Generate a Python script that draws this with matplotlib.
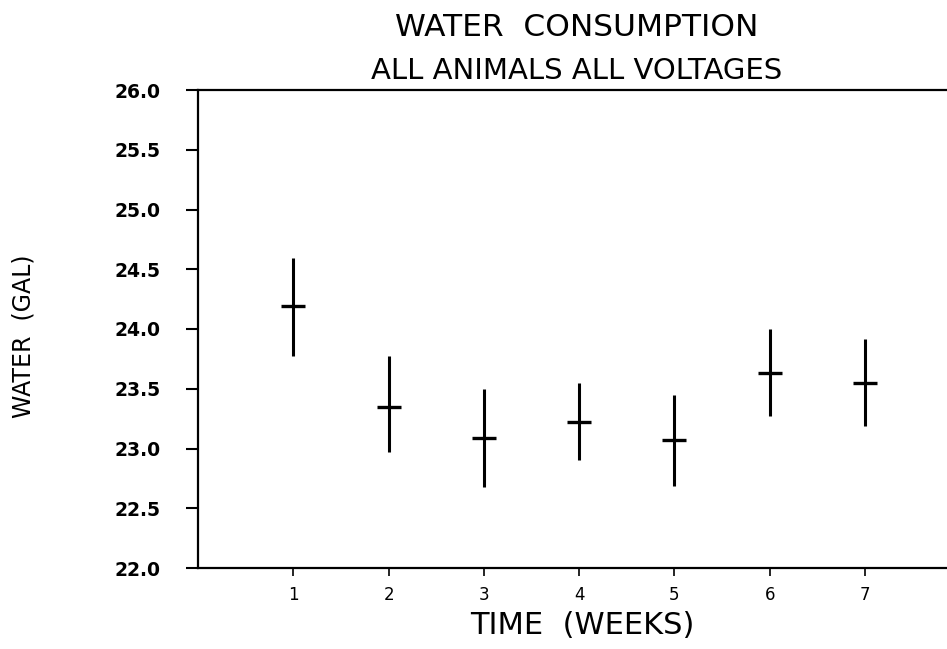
import matplotlib
matplotlib.use("Agg")
import matplotlib.pyplot as plt

weeks = [1, 2, 3, 4, 5, 6, 7]
means = [24.19, 23.35, 23.09, 23.22, 23.07, 23.63, 23.55]
upper = [24.59, 23.77, 23.50, 23.55, 23.45, 24.00, 23.92]
lower = [23.77, 22.97, 22.68, 22.90, 22.69, 23.27, 23.19]
yticks = [22.0, 22.5, 23.0, 23.5, 24.0, 24.5, 25.0, 25.5, 26.0]
ytick_labels = ["22.0", "22.5", "23.0", "23.5", "24.0", "24.5", "25.0", "25.5", "26.0"]

W, H = 947, 649
fig = plt.figure(figsize=(W / 100, H / 100), dpi=100)
left, right, top, bottom = 198, 947, 90, 568
ax = fig.add_axes([left / W, 1 - bottom / H, (right - left) / W, (bottom - top) / H])

yerr = [[m - l for m, l in zip(means, lower)], [u - m for u, m in zip(upper, means)]]
ax.errorbar(weeks, means, yerr=yerr, fmt="none", ecolor="black", elinewidth=2.2, capsize=0)
ax.plot(weeks, means, linestyle="none", marker="_", markersize=17, markeredgewidth=2.4, color="black")

ax.set_xlim(0, 7.86)
ax.set_ylim(22.0, 26.0)
ax.set_xticks(weeks)
ax.set_xticklabels([str(w) for w in weeks], fontsize=12)
ax.set_yticks(yticks)
ax.set_yticklabels(ytick_labels, fontsize=13.5, fontweight="bold")

ax.spines["right"].set_visible(False)
for s in ["left", "top", "bottom"]:
    ax.spines[s].set_linewidth(1.6)
ax.tick_params(axis="y", direction="out", length=9, width=1.5, pad=18)
ax.tick_params(axis="x", direction="out", length=6, width=1.2, pad=7)

fig.text(582 / W, 1 - 625 / H, "TIME  (WEEKS)", fontsize=22, ha="center", va="center")
fig.text(24 / W, 1 - 336 / H, "WATER  (GAL)", rotation=90, fontsize=17,
         ha="center", va="center")

fig.text(577 / W, 1 - 27 / H, "WATER  CONSUMPTION", fontsize=22.5, ha="center", va="center")
fig.text(577 / W, 1 - 71 / H, "ALL ANIMALS ALL VOLTAGES", fontsize=21, ha="center", va="center")

fig.savefig("out.png", dpi=100, facecolor="white")
